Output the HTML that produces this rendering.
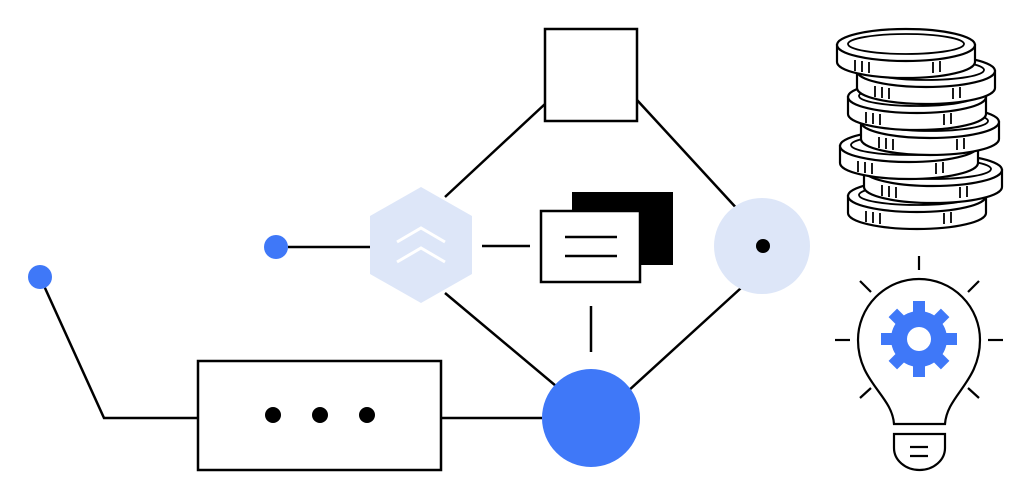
<!DOCTYPE html>
<html><head><style>html,body{margin:0;padding:0;background:#fff;width:1032px;height:500px;overflow:hidden}</style></head>
<body>
<svg width="1032" height="500" viewBox="0 0 1032 500" xmlns="http://www.w3.org/2000/svg">
<defs>
<g id="coin" stroke="#000" stroke-width="2.2" fill="#fff">
<path d="M0,16 L0,33 A69,16 0 0 0 138,33 L138,16 Z"/>
<ellipse cx="69" cy="16" rx="69" ry="16"/>
<ellipse cx="69" cy="15" rx="58" ry="10" fill="none" stroke-width="1.8"/>
<path d="M18,31 v11 M25,32 v11 M32,33 v11 M96,33 v11 M103,32 v11" stroke-width="1.8"/>
</g>
</defs>
<g stroke="#000" stroke-width="2.5" fill="none">
<line x1="545" y1="104" x2="445" y2="197"/>
<line x1="637" y1="100" x2="740" y2="212"/>
<line x1="445" y1="293" x2="556" y2="386"/>
<line x1="741" y1="288" x2="627" y2="392"/>
<line x1="288" y1="247" x2="370" y2="247"/>
<polyline points="40,277 104,418 198,418"/>
<line x1="441" y1="418" x2="542" y2="418"/>
<line x1="482" y1="246" x2="530" y2="246"/>
<line x1="591" y1="306" x2="591" y2="352"/>
<rect x="545" y="29" width="92" height="92" fill="#fff"/>
<rect x="198" y="361" width="243" height="109" fill="#fff"/>
</g>
<circle cx="276" cy="247" r="12" fill="#3f78f8"/>
<circle cx="40" cy="277" r="12" fill="#3f78f8"/>
<polygon points="421,187 472,216 472,274 421,303 370,274 370,216" fill="#dde6f8"/>
<g stroke="#fff" stroke-width="3" fill="none">
<polyline points="397,242 421,228 445,242"/>
<polyline points="397,262 421,248 445,262"/>
</g>
<rect x="572" y="192" width="101" height="73" fill="#000"/>
<rect x="541" y="211" width="99" height="71" fill="#fff" stroke="#000" stroke-width="2.5"/>
<line x1="565" y1="237" x2="617" y2="237" stroke="#000" stroke-width="2.5"/>
<line x1="565" y1="256" x2="617" y2="256" stroke="#000" stroke-width="2.5"/>
<circle cx="762" cy="246" r="48" fill="#dde6f8"/>
<circle cx="763" cy="246" r="7" fill="#000"/>
<circle cx="591" cy="418" r="49" fill="#3f78f8"/>
<circle cx="273" cy="415" r="8" fill="#000"/>
<circle cx="320" cy="415" r="8" fill="#000"/>
<circle cx="367" cy="415" r="8" fill="#000"/>
<use href="#coin" x="848" y="180"/>
<use href="#coin" x="864" y="154"/>
<use href="#coin" x="840" y="130"/>
<use href="#coin" x="861" y="106"/>
<use href="#coin" x="848" y="81"/>
<use href="#coin" x="857" y="55"/>
<use href="#coin" x="837" y="29"/>
<g stroke="#000" stroke-width="2.2" fill="none">
<path d="M894,424 C892,395 858,382 858,340 A61,61 0 0 1 980,340 C980,382 947,395 945,424 Z"/>
<path d="M894,434 L945,434 L945,448 A25.5,22 0 0 1 894,448 Z"/>
<line x1="910" y1="447" x2="928" y2="447"/>
<line x1="910" y1="456" x2="928" y2="456"/>
<line x1="919" y1="256" x2="919" y2="270"/>
<line x1="860" y1="281" x2="871" y2="292"/>
<line x1="979" y1="281" x2="968" y2="292"/>
<line x1="835" y1="340" x2="850" y2="340"/>
<line x1="988" y1="340" x2="1003" y2="340"/>
<line x1="860" y1="398" x2="871" y2="388"/>
<line x1="979" y1="398" x2="968" y2="388"/>
</g>
<g fill="#3f78f8" transform="translate(919,339)">
<circle r="28"/>
<rect x="-6" y="-38" width="12" height="14"/>
<rect x="-6" y="24" width="12" height="14"/>
<rect x="-38" y="-6" width="14" height="12"/>
<rect x="24" y="-6" width="14" height="12"/>
<g transform="rotate(45)">
<rect x="-6" y="-37" width="12" height="14"/>
<rect x="-6" y="23" width="12" height="14"/>
<rect x="-37" y="-6" width="14" height="12"/>
<rect x="23" y="-6" width="14" height="12"/>
</g>
<circle r="12" fill="#fff"/>
</g>
</svg>
</body></html>
